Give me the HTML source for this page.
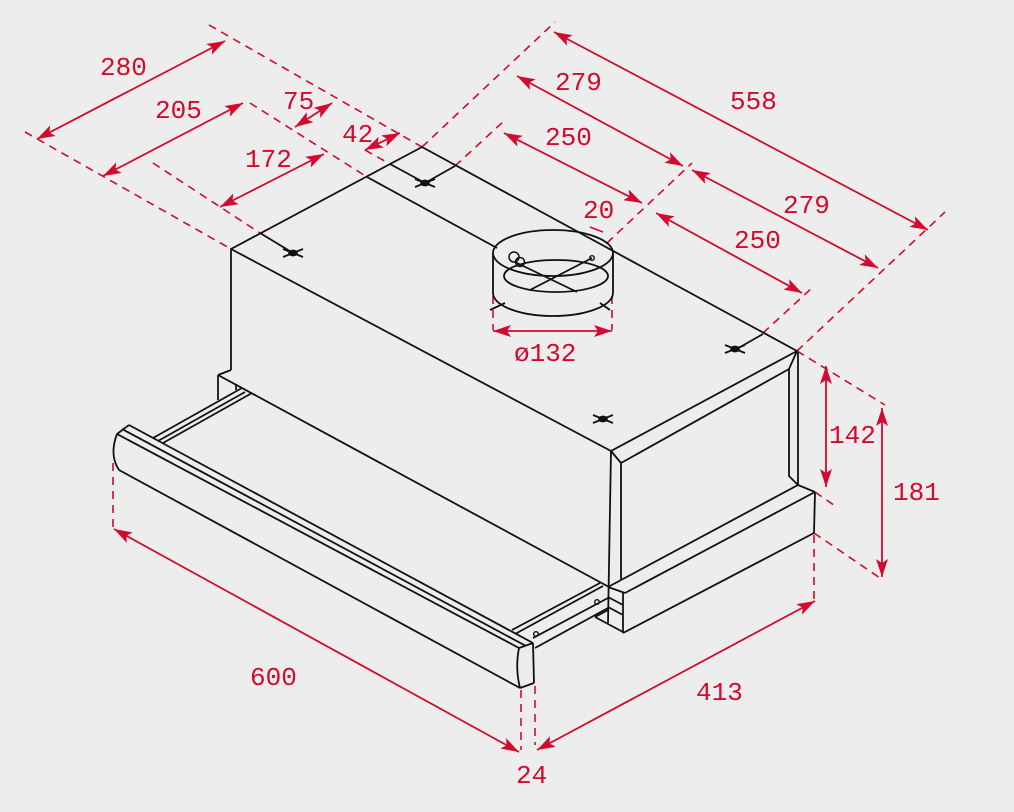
<!DOCTYPE html>
<html><head><meta charset="utf-8"><style>
html,body{margin:0;padding:0;background:#ededed;}
svg{display:block;}
text{font-family:"Liberation Mono","DejaVu Sans Mono",monospace;font-size:26px;fill:#d20a2e;}
</style></head><body>
<svg width="1014" height="812" viewBox="0 0 1014 812" xmlns="http://www.w3.org/2000/svg">
<defs>
<marker id="ar" viewBox="0 0 18 12" refX="18" refY="6" markerWidth="18" markerHeight="12" markerUnits="userSpaceOnUse" orient="auto-start-reverse">
<path d="M0,0 L18,6 L0,12 L4,6 Z" fill="#d20a2e"/>
</marker>
</defs>
<rect width="1014" height="812" fill="#ededed"/>

<!-- red dashed extension lines -->
<g stroke="#d20a2e" stroke-width="1.6" stroke-dasharray="8,6" fill="none">
<line x1="209" y1="25" x2="422" y2="147"/>
<line x1="25" y1="132" x2="231" y2="249"/>
<line x1="250" y1="103" x2="367" y2="177"/>
<line x1="153" y1="163" x2="260" y2="233"/>
<line x1="365" y1="150" x2="390" y2="164"/>
<line x1="422" y1="147" x2="555" y2="22"/>
<line x1="455" y1="166" x2="505" y2="120"/>
<line x1="797" y1="351" x2="945" y2="212"/>
<line x1="607" y1="243" x2="692" y2="163"/>
<line x1="763" y1="333" x2="813" y2="287"/>
<line x1="797" y1="351" x2="885" y2="405"/>
<line x1="815" y1="492" x2="838" y2="508"/>
<line x1="814" y1="533" x2="880" y2="578"/>
<line x1="493" y1="296" x2="493" y2="330"/>
<line x1="612" y1="296" x2="612" y2="330"/>
<line x1="814" y1="535" x2="814" y2="600"/>
<line x1="113" y1="463" x2="113" y2="527"/>
<line x1="521" y1="690" x2="521" y2="750"/>
<line x1="535" y1="686" x2="535" y2="745"/>
</g>
<line x1="590" y1="227" x2="603" y2="232" stroke="#d20a2e" stroke-width="1.6"/>

<!-- dimension arrows -->
<g stroke="#d20a2e" stroke-width="1.8" fill="none" marker-start="url(#ar)" marker-end="url(#ar)">
<line x1="37" y1="139" x2="225" y2="41"/>
<line x1="103" y1="176" x2="243" y2="103"/>
<line x1="220" y1="207" x2="324" y2="154"/>
<line x1="295" y1="127" x2="332" y2="103"/>
<line x1="365" y1="150" x2="400" y2="133"/>
<line x1="554" y1="32" x2="928" y2="230"/>
<line x1="517" y1="76" x2="683" y2="166"/>
<line x1="692" y1="170" x2="878" y2="268"/>
<line x1="504" y1="133" x2="642" y2="203"/>
<line x1="656" y1="213" x2="802" y2="293"/>
<line x1="493" y1="331" x2="612" y2="331"/>
<line x1="826" y1="366" x2="826" y2="487"/>
<line x1="882" y1="408" x2="882" y2="577"/>
<line x1="537" y1="750" x2="815" y2="601"/>
<line x1="114" y1="529" x2="519" y2="752"/>
</g>

<!-- labels -->
<text x="100" y="75">280</text>
<text x="155" y="118">205</text>
<text x="283" y="109">75</text>
<text x="342" y="142">42</text>
<text x="245" y="167">172</text>
<text x="555" y="90">279</text>
<text x="730" y="109">558</text>
<text x="545" y="145">250</text>
<text x="583" y="218">20</text>
<text x="783" y="213">279</text>
<text x="734" y="248">250</text>
<text x="514" y="361">ø132</text>
<text x="829" y="443">142</text>
<text x="893" y="500">181</text>
<text x="250" y="685">600</text>
<text x="696" y="700">413</text>
<text x="516" y="783">24</text>

<!-- black drawing -->
<g stroke="#111" stroke-width="1.8" fill="none" stroke-linejoin="round">
<polygon points="231,249 422,147 797,351 611,451"/>
<line x1="367" y1="177" x2="497" y2="248"/>
<line x1="231" y1="249" x2="231" y2="370"/>
<line x1="231" y1="370" x2="218" y2="375"/>
<line x1="218" y1="375" x2="218" y2="400"/>
<line x1="218" y1="375" x2="609" y2="587"/>
<line x1="236" y1="384" x2="236" y2="390"/>
<!-- right side -->
<line x1="611" y1="451" x2="608" y2="623"/>
<polyline points="611,451 621,463 621,580"/>
<line x1="621" y1="463" x2="789" y2="369"/>
<polyline points="797,351 789,369 789,476 798,485"/>
<line x1="798" y1="352" x2="798" y2="485"/>
<line x1="608" y1="587" x2="798" y2="485"/>
<line x1="798" y1="485" x2="815" y2="492"/>
<line x1="625" y1="593" x2="815" y2="492"/>
<line x1="623" y1="633" x2="814" y2="533"/>
<line x1="815" y1="492" x2="814" y2="533"/>
<line x1="623" y1="593" x2="623" y2="633"/>
<line x1="608" y1="587" x2="625" y2="593"/>
<line x1="608" y1="597" x2="623" y2="605"/>
<line x1="608" y1="607" x2="623" y2="615"/>
<line x1="595" y1="617" x2="623" y2="632"/>
<line x1="595" y1="617" x2="608" y2="610"/>
<!-- rails -->
<line x1="153" y1="438" x2="242" y2="388"/>
<line x1="158" y1="441" x2="245" y2="392"/>
<line x1="163" y1="443" x2="252" y2="393"/>
<line x1="512" y1="630" x2="600" y2="583"/>
<line x1="515" y1="634" x2="603" y2="586"/>
<line x1="533" y1="638" x2="608" y2="598"/>
<line x1="535" y1="648" x2="608" y2="608"/>
<circle cx="536" cy="634" r="2.3" stroke-width="1.4"/>
<circle cx="597" cy="602" r="2.3" stroke-width="1.4"/>
<!-- visor -->
<line x1="129" y1="425" x2="533" y2="643"/>
<line x1="122" y1="429" x2="526" y2="646"/>
<line x1="117" y1="434" x2="519" y2="648"/>
<line x1="119" y1="470" x2="520" y2="688"/>
<line x1="117" y1="434" x2="129" y2="425"/>
<path d="M117,434 Q109,455 119,470"/>
<path d="M519,648 Q515,668 520,688"/>
<line x1="533" y1="643" x2="534" y2="683"/>
<line x1="520" y1="688" x2="534" y2="683"/>
<line x1="519" y1="648" x2="533" y2="643"/>
<!-- duct -->
<line x1="515" y1="262" x2="577" y2="292"/>
<line x1="592" y1="258" x2="530" y2="290"/>
<line x1="490" y1="310" x2="505" y2="303"/>
<line x1="600" y1="303" x2="610" y2="310"/>
<ellipse cx="556" cy="276" rx="52" ry="16"/>
<path d="M493,253 L493,293 A60,23 0 0 0 613,293 L613,253" fill="none"/>
<ellipse cx="553" cy="253" rx="60" ry="23"/>
<circle cx="514" cy="257" r="5" stroke-width="1.5"/>
<circle cx="520" cy="262" r="4.5" stroke-width="1.5"/>
<circle cx="592" cy="258" r="2.3" stroke-width="1.4"/>
<!-- screw lines -->
<line x1="260" y1="233" x2="293" y2="253"/>
<line x1="390" y1="164" x2="425" y2="183"/>
<line x1="425" y1="183" x2="455" y2="166"/>
<line x1="735" y1="350" x2="763" y2="334"/>
</g>
<g stroke="#111" stroke-width="1.8">
<g transform="translate(293,253)"><line x1="-10" y1="-4" x2="10" y2="4"/><line x1="-10" y1="4" x2="10" y2="-4"/><ellipse rx="4" ry="2.5" fill="#111"/></g>
<g transform="translate(425,183)"><line x1="-10" y1="-4" x2="10" y2="4"/><line x1="-10" y1="4" x2="10" y2="-4"/><ellipse rx="4" ry="2.5" fill="#111"/></g>
<g transform="translate(735,349)"><line x1="-10" y1="-4" x2="10" y2="4"/><line x1="-10" y1="4" x2="10" y2="-4"/><ellipse rx="4" ry="2.5" fill="#111"/></g>
<g transform="translate(603,419)"><line x1="-10" y1="-4" x2="10" y2="4"/><line x1="-10" y1="4" x2="10" y2="-4"/><ellipse rx="4" ry="2.5" fill="#111"/></g>
</g>
</svg>
</body></html>
